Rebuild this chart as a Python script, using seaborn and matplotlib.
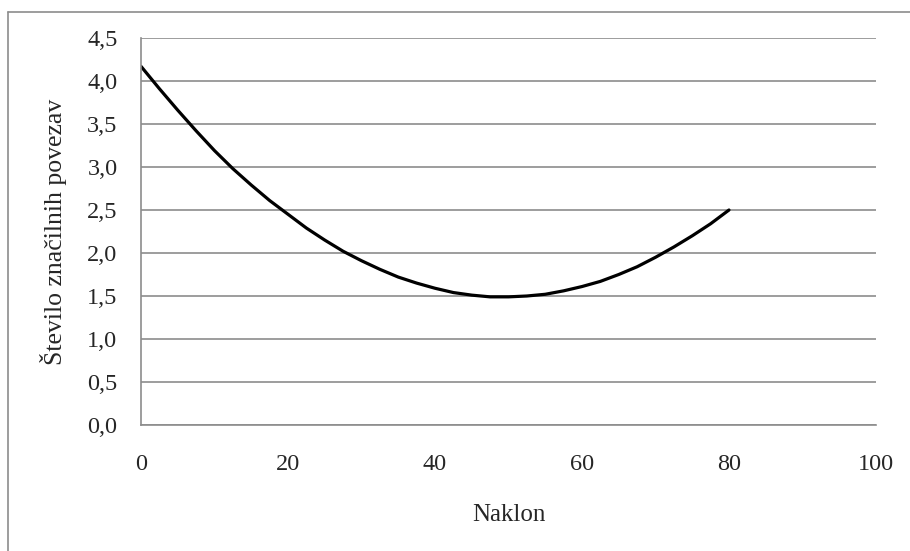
import numpy as np
import pandas as pd
import seaborn as sns
import matplotlib.pyplot as plt
from matplotlib.lines import Line2D

# podatki odčitani z grafa
naklon = [0, 2.5, 5, 7.5, 10, 12.5, 15, 17.5, 20, 22.5, 25, 27.5, 30, 32.5, 35,
          37.5, 40, 42.5, 45, 47.5, 50, 52.5, 55, 57.5, 60, 62.5, 65, 67.5, 70,
          72.5, 75, 77.5, 80]
povezave = [4.17, 3.91, 3.66, 3.42, 3.19, 2.98, 2.79, 2.61, 2.45, 2.29, 2.15,
            2.02, 1.91, 1.81, 1.72, 1.65, 1.59, 1.54, 1.51, 1.49, 1.49, 1.50,
            1.52, 1.56, 1.61, 1.67, 1.75, 1.84, 1.95, 2.07, 2.20, 2.34, 2.50]
x_ticks = [0, 20, 40, 60, 80, 100]
y_ticks = [0.0, 0.5, 1.0, 1.5, 2.0, 2.5, 3.0, 3.5, 4.0, 4.5]

df = pd.DataFrame({'Naklon': naklon, 'Povezave': povezave})

sns.set_theme(style="white")
plt.rcParams['font.family'] = ['Liberation Serif', 'DejaVu Serif']

fig = plt.figure(figsize=(9.1, 5.51), dpi=100)
ax = fig.add_axes([0.155, 0.2287, 0.8076, 0.7023])

sns.lineplot(x='Naklon', y='Povezave', data=df, ax=ax, color='black',
             linewidth=2.3, estimator=None)

ax.set_xlim(0, 100)
ax.set_ylim(0, 4.5)
ax.set_xticks(x_ticks)
ax.set_yticks(y_ticks)
ax.set_xticklabels([str(t) for t in x_ticks], fontsize=17.5)
ax.set_yticklabels([f'{t:.1f}'.replace('.', ',') for t in y_ticks], fontsize=17.5)
ax.tick_params(axis='x', length=0, pad=21)
ax.tick_params(axis='y', length=0, pad=17)

ax.yaxis.grid(True, color='#8c8c8c', linewidth=1.2)
ax.xaxis.grid(False)
for s in ['top', 'right']:
    ax.spines[s].set_visible(False)
for s in ['left', 'bottom']:
    ax.spines[s].set_color('#8c8c8c')
    ax.spines[s].set_linewidth(1.2)

ax.set_xlabel('Naklon', fontsize=18, labelpad=21)
ax.set_ylabel('Število značilnih povezav', fontsize=18.5, labelpad=14)

# zunanji okvir
fig.add_artist(Line2D([8 / 910, 8 / 910], [0, 1 - 12 / 551], transform=fig.transFigure,
                      color='#8c8c8c', linewidth=1.2))
fig.add_artist(Line2D([8 / 910, 1], [1 - 12 / 551, 1 - 12 / 551], transform=fig.transFigure,
                      color='#8c8c8c', linewidth=1.2))

fig.savefig('out.png', dpi=100)
